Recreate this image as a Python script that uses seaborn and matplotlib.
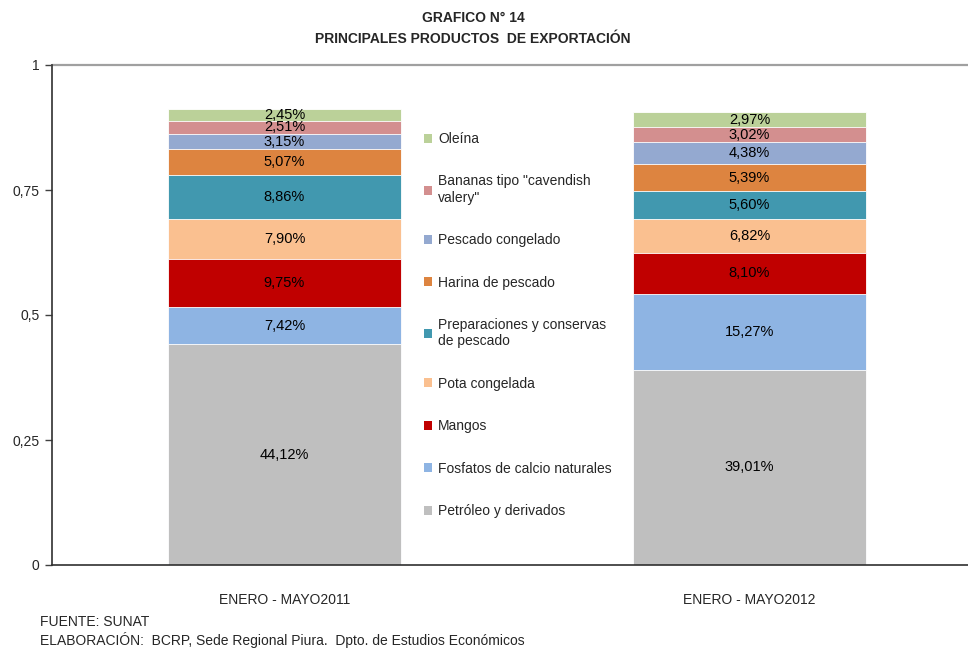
import numpy as np
import pandas as pd
import seaborn as sns
import matplotlib.pyplot as plt
from matplotlib.patches import Patch

# Data (shares of total exports, %)
periods = ["ENERO - MAYO2011", "ENERO - MAYO2012"]
products = [
    "Petróleo y derivados",
    "Fosfatos de calcio naturales",
    "Mangos",
    "Pota congelada",
    "Preparaciones y conservas\nde pescado",
    "Harina de pescado",
    "Pescado congelado",
    "Bananas tipo \"cavendish\nvalery\"",
    "Oleína",
]
share_2011 = [44.12, 7.42, 9.75, 7.90, 8.86, 5.07, 3.15, 2.51, 2.45]
share_2012 = [39.01, 15.27, 8.10, 6.82, 5.60, 5.39, 4.38, 3.02, 2.97]
colors = ["#BFBFBF", "#8EB4E3", "#C00000", "#FAC090", "#4198AF",
          "#DD8440", "#94A9D0", "#D38F8F", "#BBD199"]
yticks = [0, 0.25, 0.5, 0.75, 1]
ytick_labels = ["0", "0,25", "0,5", "0,75", "1"]

sns.set_style("white")
plt.rcParams["font.family"] = ["Liberation Sans Narrow", "Liberation Sans", "DejaVu Sans"]

rows = []
for p, v1, v2 in zip(products, share_2011, share_2012):
    rows.append({"period": periods[0], "product": p, "share": v1 / 100})
    rows.append({"period": periods[1], "product": p, "share": v2 / 100})
df = pd.DataFrame(rows)
df["top"] = df.groupby("period")["share"].cumsum()

fig = plt.figure(figsize=(9.68, 6.5), dpi=100)
ax = fig.add_axes([52 / 968, 1 - 565 / 650, 930 / 968, 500 / 650])

# stacked bars: draw cumulative heights from the top segment down
for prod, col in reversed(list(zip(products, colors))):
    sub = df[df["product"] == prod]
    sns.barplot(data=sub, x="period", y="top", order=periods, color=col,
                width=0.5, saturation=1, edgecolor="white", linewidth=0.6, ax=ax)

for _, r in df.iterrows():
    xi = periods.index(r["period"])
    ax.text(xi, r["top"] - r["share"] / 2, f"{r['share'] * 100:.2f}%".replace(".", ","),
            ha="center", va="center", fontsize=10.5, color="black")

ax.set_xlim(-0.5, 1.5)
ax.set_ylim(0, 1)
ax.set_yticks(yticks)
ax.set_yticklabels(ytick_labels, fontsize=10)
ax.set_xticks([0, 1])
ax.set_xticklabels(periods, fontsize=10)
ax.set_xticks([0.5], minor=True)
ax.tick_params(axis="x", which="major", length=0, pad=20)
ax.tick_params(axis="x", which="minor", length=5, width=1, color="#404040", direction="out")
ax.tick_params(axis="y", length=5, width=1, color="#404040", direction="out", left=True, pad=4)
ax.set_xlabel("")
ax.set_ylabel("")
ax.axhline(1, color="#A0A0A0", lw=1.6, clip_on=False)
for s in ["top", "right"]:
    ax.spines[s].set_visible(False)
for s in ["left", "bottom"]:
    ax.spines[s].set_color("#303030")
    ax.spines[s].set_linewidth(1.2)

handles = [Patch(facecolor=c, edgecolor="none") for c in colors]
ax.legend(handles[::-1], products[::-1], loc="upper left",
          bbox_to_anchor=(424 / 968, 1 - 132 / 650), bbox_transform=fig.transFigure,
          frameon=False, fontsize=10, handlelength=0.6, handleheight=0.6,
          handletextpad=0.4, labelspacing=2.05, borderpad=0, borderaxespad=0)

fig.text(473 / 968, 1 - 18 / 650, "GRAFICO N° 14", ha="center", va="center",
         fontsize=10, fontweight="bold")
fig.text(473 / 968, 1 - 39 / 650, "PRINCIPALES PRODUCTOS  DE EXPORTACIÓN", ha="center",
         va="center", fontsize=10, fontweight="bold")
fig.text(40 / 968, 1 - 622 / 650, "FUENTE: SUNAT", ha="left", va="center", fontsize=10)
fig.text(40 / 968, 1 - 640 / 650,
         "ELABORACIÓN:  BCRP, Sede Regional Piura.  Dpto. de Estudios Económicos",
         ha="left", va="center", fontsize=10)

fig.savefig("out.png", dpi=100)
